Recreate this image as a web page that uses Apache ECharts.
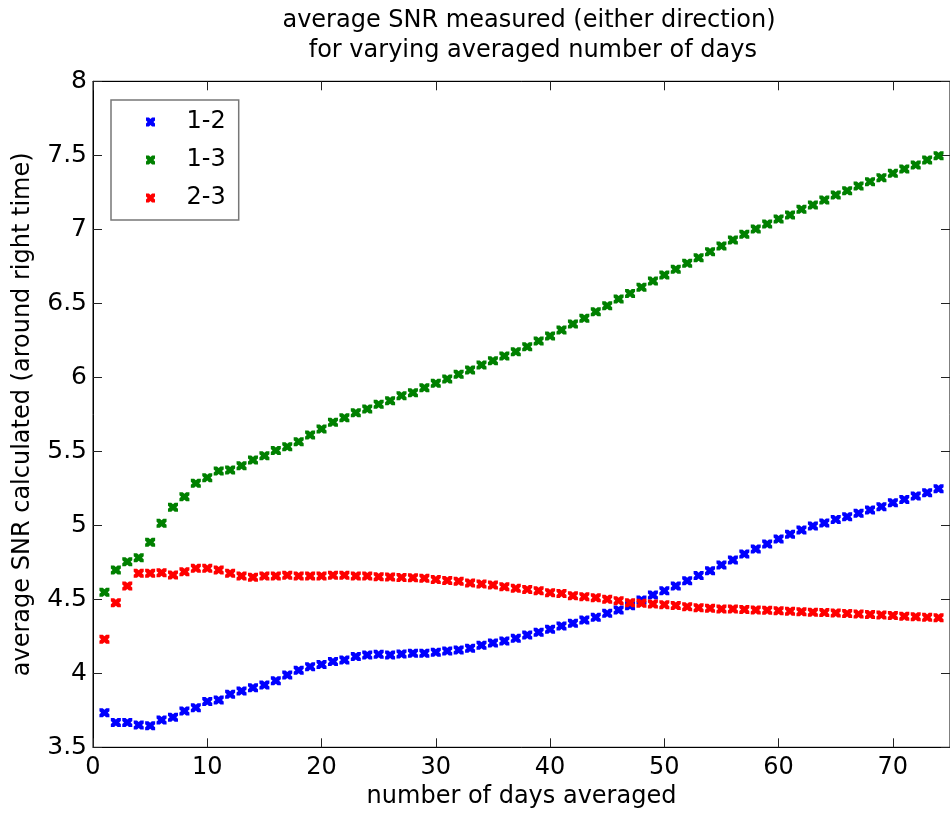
<!DOCTYPE html>
<html>
<head>
<meta charset="utf-8">
<script src="https://cdn.jsdelivr.net/npm/echarts@6/dist/echarts.min.js"></script>
<style>
  html, body { margin: 0; padding: 0; background: #fff; }
  #chart { width: 950px; height: 821px; }
</style>
</head>
<body>
<div id="chart"></div>
<script>
// Number of days in the running average
const days = [
   1,  2,  3,  4,  5,  6,  7,  8,  9, 10, 11, 12, 13, 14, 15, 16, 17, 18, 19, 20,
  21, 22, 23, 24, 25, 26, 27, 28, 29, 30, 31, 32, 33, 34, 35, 36, 37, 38, 39, 40,
  41, 42, 43, 44, 45, 46, 47, 48, 49, 50, 51, 52, 53, 54, 55, 56, 57, 58, 59, 60,
  61, 62, 63, 64, 65, 66, 67, 68, 69, 70, 71, 72, 73, 74
];

// Average SNR per link
const snr12 = [
  3.734, 3.667, 3.667, 3.651, 3.646, 3.685, 3.703, 3.745, 3.768, 3.809,
  3.820, 3.858, 3.881, 3.903, 3.921, 3.950, 3.989, 4.020, 4.045, 4.060,
  4.079, 4.090, 4.113, 4.124, 4.128, 4.124, 4.130, 4.135, 4.135, 4.142,
  4.151, 4.158, 4.169, 4.190, 4.205, 4.218, 4.236, 4.259, 4.277, 4.297,
  4.320, 4.338, 4.360, 4.378, 4.405, 4.428, 4.457, 4.495, 4.529, 4.557,
  4.590, 4.625, 4.660, 4.693, 4.732, 4.765, 4.806, 4.840, 4.874, 4.907,
  4.939, 4.968, 4.995, 5.015, 5.040, 5.058, 5.081, 5.103, 5.126, 5.153,
  5.175, 5.198, 5.220, 5.247
];
const snr13 = [
  4.547, 4.698, 4.754, 4.781, 4.885, 5.014, 5.122, 5.193, 5.284, 5.322,
  5.367, 5.374, 5.403, 5.441, 5.470, 5.506, 5.531, 5.565, 5.610, 5.651,
  5.696, 5.727, 5.761, 5.786, 5.818, 5.842, 5.876, 5.896, 5.930, 5.960,
  5.989, 6.020, 6.049, 6.083, 6.112, 6.144, 6.173, 6.207, 6.245, 6.279,
  6.320, 6.360, 6.399, 6.443, 6.484, 6.529, 6.567, 6.608, 6.650, 6.691,
  6.730, 6.770, 6.808, 6.849, 6.887, 6.928, 6.966, 7.002, 7.036, 7.070,
  7.097, 7.135, 7.164, 7.198, 7.232, 7.261, 7.293, 7.322, 7.349, 7.378,
  7.407, 7.434, 7.468, 7.497
];
const snr23 = [
  4.230, 4.477, 4.590, 4.676, 4.676, 4.680, 4.664, 4.686, 4.709, 4.709,
  4.698, 4.676, 4.657, 4.649, 4.657, 4.657, 4.662, 4.657, 4.657, 4.657,
  4.662, 4.662, 4.657, 4.657, 4.653, 4.651, 4.648, 4.645, 4.642, 4.633,
  4.627, 4.622, 4.610, 4.603, 4.597, 4.585, 4.574, 4.567, 4.558, 4.545,
  4.540, 4.524, 4.518, 4.511, 4.500, 4.491, 4.477, 4.473, 4.468, 4.464,
  4.458, 4.450, 4.443, 4.439, 4.434, 4.434, 4.431, 4.428, 4.426, 4.423,
  4.420, 4.416, 4.413, 4.410, 4.407, 4.404, 4.400, 4.397, 4.394, 4.390,
  4.386, 4.382, 4.378, 4.375
];

const seriesNames = ['1-2', '1-3', '2-3'];
const seriesColors = ['#0000ff', '#008000', '#ff0000'];
const xTickLabels = ['0', '10', '20', '30', '40', '50', '60', '70'];

// Thick "x" marker
const CROSS = 'path://M0,0 L3.3,0 L5,1.7 L6.7,0 L10,0 L10,3.3 L8.3,5 L10,6.7 L10,10 L6.7,10 L5,8.3 L3.3,10 L0,10 L0,6.7 L1.7,5 L0,3.3 Z';

const FONT = 'DejaVu Sans';

function pairs(ys) {
  return days.map((d, i) => [d, ys[i]]);
}

const tickStyle = { show: true, inside: true, length: 9, lineStyle: { color: '#222', width: 1 } };

const chart = echarts.init(document.getElementById('chart'), null, { renderer: 'canvas' });
chart.setOption({
  animation: false,
  backgroundColor: '#ffffff',
  textStyle: { fontFamily: FONT },
  title: {
    text: 'average SNR measured (either direction)\n for varying averaged number of days',
    left: 524,
    top: 1,
    textAlign: 'center',
    textStyle: { fontFamily: FONT, fontSize: 24, fontWeight: 'normal', color: '#000', lineHeight: 30 }
  },
  legend: {
    orient: 'vertical',
    left: 111,
    top: 100,
    padding: [10, 13, 10, 35],
    itemGap: 14,
    itemWidth: 10,
    itemHeight: 9,
    borderColor: '#777',
    borderWidth: 1.5,
    backgroundColor: '#fff',
    data: seriesNames.map(n => ({ name: n, icon: CROSS })),
    textStyle: { fontFamily: FONT, fontSize: 24, color: '#000', lineHeight: 24, padding: [0, 0, 0, 26] }
  },
  grid: {
    left: 93,
    top: 81.3,
    width: 862.5,
    bottom: 73.7,
    show: true,
    borderColor: '#000',
    borderWidth: 1,
    backgroundColor: 'transparent'
  },
  xAxis: [
    {
      type: 'value',
      min: 0,
      max: 75,
      interval: 10,
      position: 'bottom',
      name: 'number of days averaged',
      nameLocation: 'middle',
      nameGap: 37,
      nameTextStyle: { fontFamily: FONT, fontSize: 24, color: '#000' },
      axisLine: { show: true, onZero: false, lineStyle: { color: '#000', width: 1 } },
      axisTick: tickStyle,
      splitLine: { show: false },
      axisLabel: {
        fontFamily: FONT, fontSize: 24, color: '#000', margin: 8,
        showMaxLabel: false,
        formatter: v => (xTickLabels.indexOf(String(v)) >= 0 ? String(v) : '')
      }
    },
    {
      type: 'value',
      min: 0,
      max: 75,
      interval: 10,
      position: 'top',
      axisLine: { show: true, onZero: false, lineStyle: { color: '#000', width: 1 } },
      axisTick: tickStyle,
      splitLine: { show: false },
      axisLabel: { show: false }
    }
  ],
  yAxis: [
    {
      type: 'value',
      min: 3.5,
      max: 8,
      interval: 0.5,
      position: 'left',
      name: 'average SNR calculated (around right time)',
      nameLocation: 'middle',
      nameGap: 58,
      nameTextStyle: { fontFamily: FONT, fontSize: 24, color: '#000' },
      axisLine: { show: true, onZero: false, lineStyle: { color: '#000', width: 1 } },
      axisTick: tickStyle,
      splitLine: { show: false },
      axisLabel: { fontFamily: FONT, fontSize: 25, color: '#000', margin: 6 }
    },
    {
      type: 'value',
      min: 3.5,
      max: 8,
      interval: 0.5,
      position: 'right',
      axisLine: { show: true, onZero: false, lineStyle: { color: '#000', width: 1 } },
      axisTick: tickStyle,
      splitLine: { show: false },
      axisLabel: { show: false }
    }
  ],
  series: [snr12, snr13, snr23].map((ys, i) => ({
    name: seriesNames[i],
    type: 'scatter',
    xAxisIndex: 0,
    yAxisIndex: 0,
    symbol: CROSS,
    symbolSize: [10, 9],
    itemStyle: { color: seriesColors[i], opacity: 1 },
    data: pairs(ys)
  }))
});
</script>
</body>
</html>
